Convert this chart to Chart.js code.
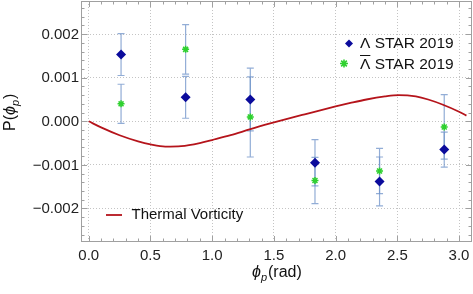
<!DOCTYPE html>
<html>
<head>
<meta charset="utf-8">
<script src="https://cdn.jsdelivr.net/npm/chart.js@4.4.0/dist/chart.umd.min.js"></script>
<style>
    body { margin: 0; background: #fff; }
    #wrap { width: 473px; height: 294px; }
</style>
</head>
<body>
<div id="wrap"><canvas id="chart" width="473" height="294"></canvas></div>
<script>
// bins de phi_p (rad)
const phiBins = [0.262, 0.785, 1.309, 1.833, 2.356, 2.880];
// Lambda STAR 2019
const lambdaP = [0.00153, 0.00055, 0.00050, -0.00095, -0.00138, -0.00065];
const lambdaErr = [0.00048, 0.00048, 0.00072, 0.00053, 0.00056, 0.00040];
// anti-Lambda STAR 2019
const antiP = [0.00040, 0.00165, 0.00010, -0.00136, -0.00114, -0.00013];
const antiErr = [0.00045, 0.00057, 0.00092, 0.00053, 0.00052, 0.00074];

// curva de vorticidade termica
const curveX = [0, 0.10, 0.25, 0.40, 0.50, 0.62, 0.75, 0.90, 1.00, 1.15, 1.31, 1.47, 1.60, 1.75, 2.00, 2.12, 2.25, 2.40, 2.51, 2.65, 2.75, 2.87, 3.00, 3.06];
const curveY = [0, -0.00014, -0.00032, -0.00046, -0.00053, -0.00058, -0.00057, -0.00050, -0.00043, -0.00032, -0.00018, -0.00005, 0.00005, 0.00016, 0.00034, 0.00042, 0.00050, 0.00057, 0.00060, 0.00057, 0.00050, 0.00038, 0.00022, 0.00013];

const xTickVals = [0, 0.5, 1, 1.5, 2, 2.5, 3];
const xTickLabels = ['0.0', '0.5', '1.0', '1.5', '2.0', '2.5', '3.0'];
const yTickVals = [-0.002, -0.001, 0, 0.001, 0.002];
const yTickLabels = ['\u22120.002', '\u22120.001', '0.000', '0.001', '0.002'];

const FONT = "'Liberation Sans', 'DejaVu Sans', sans-serif";
const BLUE = '#0b0b9c';
const GREEN = '#2fd12f';
const RED = '#b5141b';

function toPoints(xs, ys) {
    return xs.map((v, i) => ({ x: v, y: ys[i] }));
}

function drawDiamond(ctx, x, y, r) {
    ctx.beginPath();
    ctx.moveTo(x - r, y);
    ctx.lineTo(x, y - r);
    ctx.lineTo(x + r, y);
    ctx.lineTo(x, y + r);
    ctx.closePath();
    ctx.fill();
}

function drawStar(ctx, x, y, r) {
    ctx.beginPath();
    for (let k = 0; k < 4; k++) {
        const a = k * Math.PI / 4;
        ctx.moveTo(x - Math.cos(a) * r, y - Math.sin(a) * r);
        ctx.lineTo(x + Math.cos(a) * r, y + Math.sin(a) * r);
    }
    ctx.stroke();
}

// barras de erro
const errorBars = {
    id: 'errorBars',
    beforeDatasetsDraw(chart) {
        const { ctx, scales: { x, y } } = chart;
        ctx.save();
        ctx.strokeStyle = 'rgba(110,145,200,0.75)';
        ctx.lineWidth = 1.2;
        [[lambdaP, lambdaErr], [antiP, antiErr]].forEach(([vals, errs]) => {
            vals.forEach((v, i) => {
                const px = x.getPixelForValue(phiBins[i]);
                const top = y.getPixelForValue(v + errs[i]);
                const bot = y.getPixelForValue(v - errs[i]);
                ctx.beginPath();
                ctx.moveTo(px, top); ctx.lineTo(px, bot);
                ctx.moveTo(px - 3.5, top); ctx.lineTo(px + 3.5, top);
                ctx.moveTo(px - 3.5, bot); ctx.lineTo(px + 3.5, bot);
                ctx.stroke();
            });
        });
        ctx.restore();
    }
};

// moldura com ticks internos, rotulos, legendas e titulos dos eixos
const frame = {
    id: 'frame',
    afterDraw(chart) {
        const { ctx, chartArea: a, scales: { x, y } } = chart;
        ctx.save();
        ctx.strokeStyle = '#a0a0a0';
        ctx.lineWidth = 1;
        ctx.strokeRect(a.left + 0.5, a.top + 0.5, a.right - a.left - 1, a.bottom - a.top - 1);
        ctx.beginPath();
        for (let k = 0; k <= 31; k++) {
            const px = Math.round(x.getPixelForValue(k / 10)) + 0.5;
            const len = k % 5 === 0 ? 6 : 3.5;
            ctx.moveTo(px, a.bottom); ctx.lineTo(px, a.bottom - len);
            ctx.moveTo(px, a.top); ctx.lineTo(px, a.top + len);
        }
        for (let k = -13; k <= 13; k++) {
            const py = Math.round(y.getPixelForValue(k * 0.0002)) + 0.5;
            const len = k % 5 === 0 ? 6 : 3.5;
            ctx.moveTo(a.left, py); ctx.lineTo(a.left + len, py);
            ctx.moveTo(a.right, py); ctx.lineTo(a.right - len, py);
        }
        ctx.stroke();

        // rotulos dos ticks
        ctx.fillStyle = '#222';
        ctx.font = '15px ' + FONT;
        ctx.textBaseline = 'middle';
        ctx.textAlign = 'center';
        xTickVals.forEach((v, i) => ctx.fillText(xTickLabels[i], x.getPixelForValue(v), 256));
        ctx.textAlign = 'right';
        yTickVals.forEach((v, i) => ctx.fillText(yTickLabels[i], a.left - 2, y.getPixelForValue(v) + 0.5));

        // legenda dos dados
        ctx.textAlign = 'left';
        ctx.fillStyle = BLUE;
        drawDiamond(ctx, 349, 43.5, 4);
        ctx.strokeStyle = GREEN;
        ctx.lineWidth = 1.6;
        drawStar(ctx, 344, 63.5, 4);
        ctx.fillStyle = '#111';
        ctx.font = '15.5px ' + FONT;
        ctx.fillText('\u039B STAR 2019', 360, 43.5);
        ctx.fillText('\u039B STAR 2019', 360, 64.5);
        const lw = ctx.measureText('\u039B').width;
        ctx.strokeStyle = '#111';
        ctx.lineWidth = 1;
        ctx.beginPath();
        ctx.moveTo(360, 55.5); ctx.lineTo(360 + lw, 55.5);
        ctx.stroke();

        // legenda da curva
        ctx.strokeStyle = RED;
        ctx.lineWidth = 1.8;
        ctx.beginPath();
        ctx.moveTo(106, 215); ctx.lineTo(122, 215);
        ctx.stroke();
        ctx.font = '15px ' + FONT;
        ctx.fillText('Thermal Vorticity', 131.5, 215);

        // titulo do eixo x: phi_p(rad)
        let cx = 252;
        ctx.font = 'italic 16px ' + FONT;
        ctx.fillText('\u03D5', cx, 273);
        cx += ctx.measureText('\u03D5').width;
        ctx.font = 'italic 11px ' + FONT;
        ctx.fillText('p', cx, 278);
        cx += ctx.measureText('p').width + 1;
        ctx.font = '16px ' + FONT;
        ctx.fillText('(rad)', cx, 273);

        // titulo do eixo y: P(phi_p)
        ctx.translate(11, 131);
        ctx.rotate(-Math.PI / 2);
        cx = 0;
        ctx.font = '16px ' + FONT;
        ctx.fillText('P(', cx, 0);
        cx += ctx.measureText('P(').width;
        ctx.font = 'italic 16px ' + FONT;
        ctx.fillText('\u03D5', cx, 0);
        cx += ctx.measureText('\u03D5').width;
        ctx.font = 'italic 11px ' + FONT;
        ctx.fillText('p', cx, 5);
        cx += ctx.measureText('p').width + 1;
        ctx.font = '16px ' + FONT;
        ctx.fillText(')', cx, 0);
        ctx.restore();
    }
};

new Chart(document.getElementById('chart'), {
    type: 'scatter',
    data: {
        datasets: [
            {
                label: '\u039B STAR 2019',
                data: toPoints(phiBins, lambdaP),
                pointStyle: 'rectRot',
                pointRadius: 5,
                backgroundColor: BLUE,
                borderColor: BLUE,
                borderWidth: 0,
                order: 1
            },
            {
                label: 'anti-\u039B STAR 2019',
                data: toPoints(phiBins, antiP),
                pointStyle: 'star',
                pointRadius: 3.5,
                borderColor: GREEN,
                borderWidth: 1.5,
                order: 2
            },
            {
                label: 'Thermal Vorticity',
                data: toPoints(curveX, curveY),
                showLine: true,
                pointRadius: 0,
                borderColor: RED,
                borderWidth: 1.8,
                cubicInterpolationMode: 'monotone',
                order: 3
            }
        ]
    },
    options: {
        responsive: false,
        animation: false,
        devicePixelRatio: 1,
        layout: { autoPadding: false, padding: { top: 1, right: 1, left: 0, bottom: 0 } },
        plugins: {
            legend: { display: false },
            tooltip: { enabled: false }
        },
        scales: {
            x: {
                type: 'linear',
                min: -0.0625,
                max: 3.105,
                afterBuildTicks: (s) => { s.ticks = xTickVals.map(v => ({ value: v })); },
                afterFit: (s) => { s.height = 52; },
                ticks: { display: false },
                grid: { color: '#c4c4c4', drawTicks: false },
                border: { display: false, dash: [1, 2] }
            },
            y: {
                type: 'linear',
                min: -0.00277,
                max: 0.00276,
                afterBuildTicks: (s) => { s.ticks = yTickVals.map(v => ({ value: v })); },
                afterFit: (s) => { s.width = 81; },
                ticks: { display: false },
                grid: { color: '#c4c4c4', drawTicks: false },
                border: { display: false, dash: [1, 2] }
            }
        }
    },
    plugins: [errorBars, frame]
});
</script>
</body>
</html>
